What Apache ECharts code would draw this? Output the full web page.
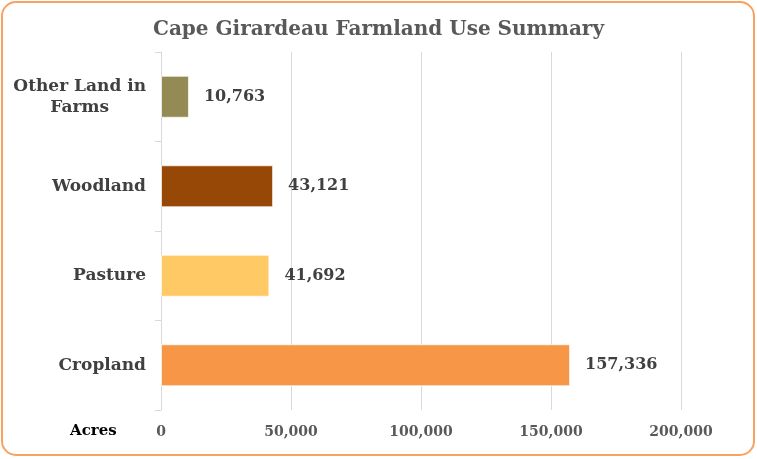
<!DOCTYPE html>
<html>
<head>
<meta charset="utf-8">
<script src="https://cdn.jsdelivr.net/npm/echarts@6/dist/echarts.min.js"></script>
<style>
  html, body { margin: 0; padding: 0; background: #ffffff; }
  #chart { width: 757px; height: 459px; }
</style>
</head>
<body>
<div id="chart"></div>
<script>
// Land use categories, listed bottom to top
const categories = ['Cropland', 'Pasture', 'Woodland', 'Other Land in Farms'];
const acres = [157336, 41692, 43121, 10763];
const barColors = ['#F79646', '#FFC966', '#974706', '#948A54'];
const xTicks = [0, 50000, 100000, 150000, 200000];

const serif = '"DejaVu Serif", "Liberation Serif", serif';
const fmt = v => v.toLocaleString('en-US');

const chart = echarts.init(document.getElementById('chart'));

chart.setOption({
  backgroundColor: '#ffffff',
  animation: false,
  title: {
    text: 'Cape Girardeau Farmland Use Summary',
    left: 'center',
    top: 15,
    textStyle: { fontFamily: serif, fontSize: 20, fontWeight: 'bold', color: '#595959' }
  },
  graphic: [
    {
      type: 'rect',
      z: -10,
      shape: { x: 2, y: 2, width: 752, height: 453, r: 14 },
      style: { fill: '#ffffff', stroke: '#F9A25F', lineWidth: 2 }
    },
    {
      type: 'text',
      left: 70,
      top: 424,
      style: { text: 'Acres', fontFamily: serif, fontSize: 15, fontWeight: 'bold', fill: '#000000' }
    }
  ],
  grid: { left: 161, right: 76, top: 52, bottom: 49, containLabel: false },
  xAxis: {
    type: 'value',
    min: xTicks[0],
    max: xTicks[xTicks.length - 1],
    interval: xTicks[1] - xTicks[0],
    axisLine: { show: false },
    axisTick: { show: false },
    splitLine: { show: true, lineStyle: { color: '#d9d9d9', width: 1 } },
    axisLabel: {
      margin: 15,
      formatter: v => fmt(v),
      fontFamily: serif, fontSize: 14, fontWeight: 'bold', color: '#595959'
    }
  },
  yAxis: {
    type: 'category',
    data: categories,
    axisLine: { show: true, lineStyle: { color: '#d9d9d9' } },
    axisTick: { show: true, length: 6, lineStyle: { color: '#d9d9d9' } },
    axisLabel: {
      margin: 15,
      fontFamily: serif, fontSize: 17, fontWeight: 'bold', color: '#404040',
      lineHeight: 21,
      formatter: v => {
        if (v === 'Other Land in Farms') return '{a|Other Land in}\n{b|Farms}';
        return v;
      },
      rich: {
        a: { fontFamily: serif, fontSize: 17, fontWeight: 'bold', color: '#404040', lineHeight: 21 },
        b: { fontFamily: serif, fontSize: 17, fontWeight: 'bold', color: '#404040', lineHeight: 21, width: 131, align: 'center' }
      }
    }
  },
  series: [{
    type: 'bar',
    barWidth: 42,
    data: acres.map((v, i) => ({ value: v, itemStyle: { color: barColors[i] } })),
    itemStyle: { borderColor: 'rgba(255,255,255,0.7)', borderWidth: 1 },
    label: {
      show: true,
      position: 'right',
      distance: 15,
      formatter: p => fmt(p.value),
      fontFamily: serif, fontSize: 16, fontWeight: 'bold', color: '#404040'
    }
  }]
});
</script>
</body>
</html>
